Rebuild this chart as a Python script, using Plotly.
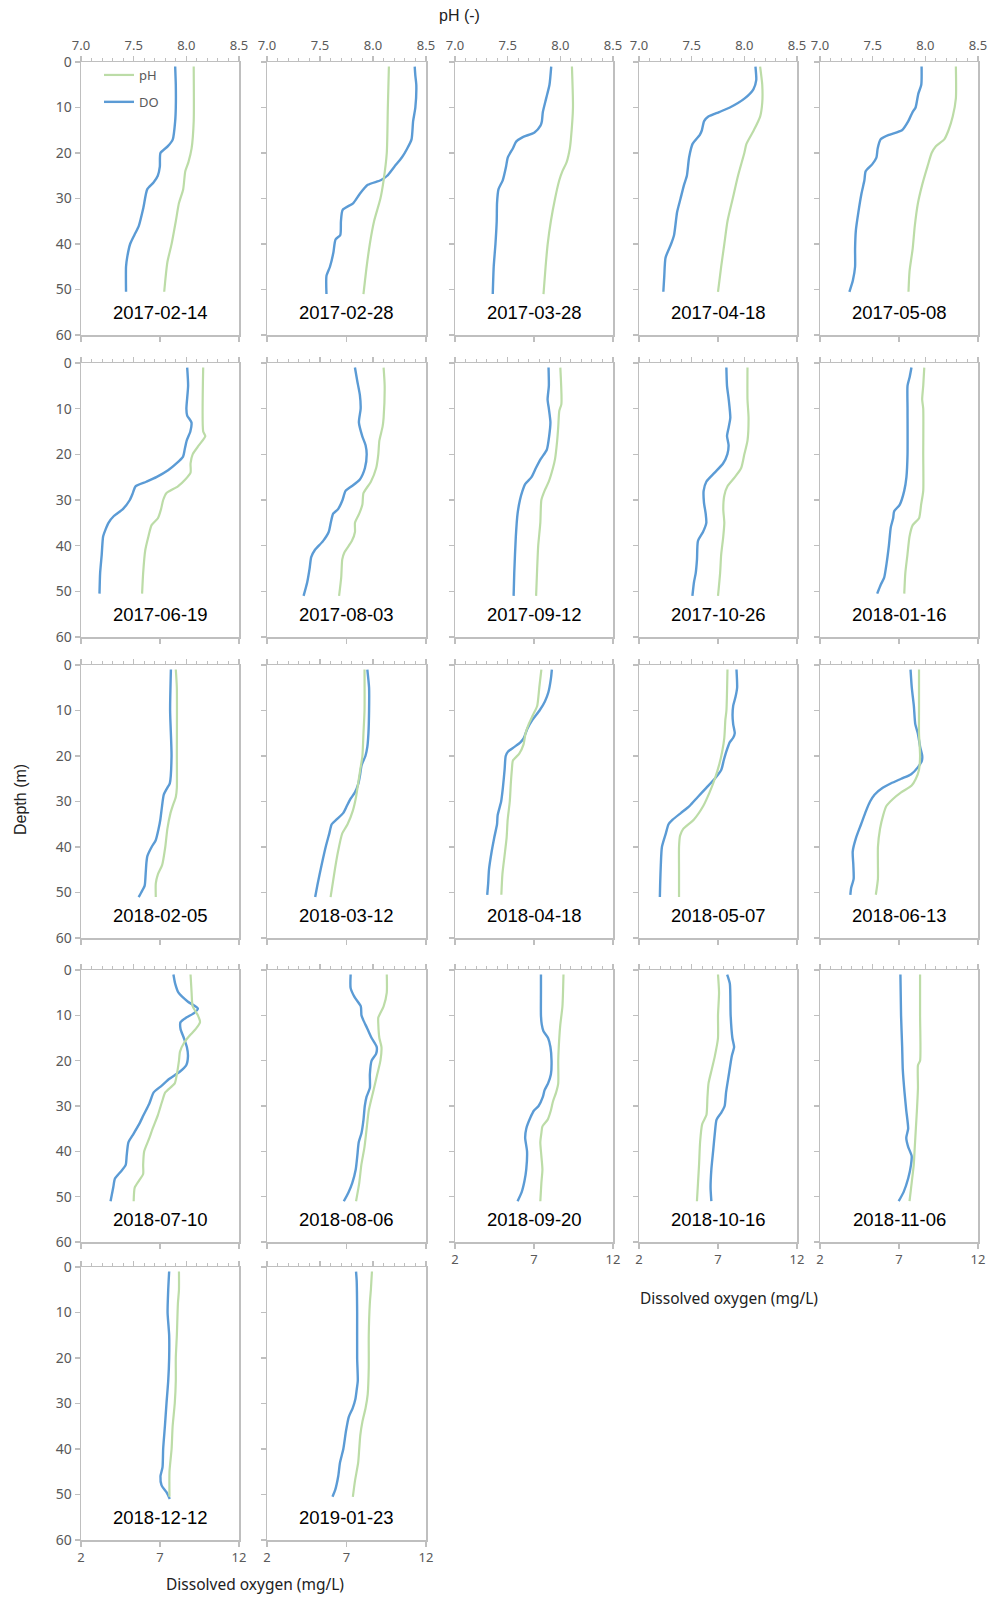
import plotly.graph_objects as go

DATES = ["2017-02-14", "2017-02-28", "2017-03-28", "2017-04-18", "2017-05-08",
         "2017-06-19", "2017-08-03", "2017-09-12", "2017-10-26", "2018-01-16",
         "2018-02-05", "2018-03-12", "2018-04-18", "2018-05-07", "2018-06-13",
         "2018-07-10", "2018-08-06", "2018-09-20", "2018-10-16", "2018-11-06",
         "2018-12-12", "2019-01-23"]

DEPTH_TICKS = [0, 10, 20, 30, 40, 50, 60]
DO_TICKS = [2, 7, 12]
PH_TICKS = [7.0, 7.5, 8.0, 8.5]

# ---- 2017-02-14
DO_DEP_01 = [1, 5, 10, 13, 17, 18.5, 20, 23, 25, 26.5, 28, 32, 36, 38, 40, 43, 45, 50.5]
DO_01 = [7.96, 8.0, 8.0, 7.96, 7.81, 7.5, 7.03, 6.99, 6.86, 6.59, 6.19, 5.95, 5.66, 5.38, 5.11, 4.92, 4.85, 4.85]
PH_DEP_01 = [1, 13, 19, 22, 24, 28, 31, 35, 40, 44, 48, 50.5]
PH_01 = [8.07, 8.07, 8.05, 8.02, 7.99, 7.97, 7.93, 7.90, 7.86, 7.82, 7.80, 7.79]
# ---- 2017-02-28
DO_DEP_02 = [1, 3, 5, 10, 13, 17, 19, 21, 23, 25, 26, 27, 29, 31, 32.5, 35, 38, 39, 42, 45, 47, 51]
DO_02 = [11.29, 11.33, 11.39, 11.33, 11.19, 11.09, 10.82, 10.48, 10.01, 9.56, 9.15, 8.34, 7.83, 7.43, 6.76, 6.65, 6.61, 6.31, 6.17, 5.96, 5.74, 5.74]
PH_DEP_02 = [1, 10, 20, 26, 30, 35, 40, 45, 51]
PH_02 = [8.15, 8.14, 8.13, 8.10, 8.07, 8.01, 7.97, 7.94, 7.91]
# ---- 2017-03-28
DO_DEP_03 = [1, 5, 8, 11, 13, 14, 15.5, 16.5, 17.5, 19, 21, 23, 26, 28, 31, 35, 40, 45, 51]
DO_03 = [8.09, 7.98, 7.77, 7.56, 7.50, 7.41, 7.03, 6.29, 5.87, 5.66, 5.34, 5.23, 5.02, 4.75, 4.66, 4.64, 4.56, 4.45, 4.39]
PH_DEP_03 = [1, 10, 17, 19, 22, 24, 26, 30, 35, 40, 45, 51]
PH_03 = [8.11, 8.12, 8.10, 8.09, 8.06, 8.02, 7.99, 7.95, 7.91, 7.88, 7.86, 7.84]
# ---- 2017-04-18
DO_DEP_04 = [1, 4, 6, 8, 10, 11, 12, 13, 15, 16, 18, 21, 25, 27, 30, 33, 38, 40, 43, 47, 50.5]
DO_04 = [9.37, 9.42, 9.24, 8.69, 7.75, 7.07, 6.39, 6.12, 5.98, 5.85, 5.39, 5.17, 5.03, 4.85, 4.63, 4.41, 4.22, 4.03, 3.68, 3.60, 3.54]
PH_DEP_04 = [1, 5, 9, 12, 15, 18, 20, 25, 30, 35, 40, 45, 50.5]
PH_04 = [8.15, 8.17, 8.17, 8.15, 8.09, 8.02, 8.00, 7.94, 7.89, 7.84, 7.81, 7.78, 7.75]
# ---- 2017-05-08
DO_DEP_05 = [1, 5, 7, 10, 11, 13, 15, 16, 17, 19, 21, 22.5, 24, 26, 29, 33, 37, 41, 45, 48, 50.5]
DO_05 = [8.43, 8.41, 8.22, 8.05, 7.86, 7.59, 7.19, 6.38, 5.84, 5.65, 5.57, 5.30, 4.89, 4.81, 4.62, 4.43, 4.27, 4.22, 4.22, 4.08, 3.86]
PH_DEP_05 = [1, 8, 12, 15, 17, 18.5, 20, 23, 27, 31, 36, 41, 46, 50.5]
PH_05 = [8.29, 8.29, 8.26, 8.22, 8.18, 8.10, 8.06, 8.02, 7.97, 7.93, 7.90, 7.88, 7.85, 7.84]
# ---- 2017-06-19
DO_DEP_06 = [1, 5, 10, 11.5, 13, 15, 17, 19, 20.5, 22, 23.5, 25, 26, 27, 28.5, 30, 32, 33.5, 35, 36.5, 38, 42, 46, 50.5]
DO_06 = [8.72, 8.78, 8.67, 8.72, 8.99, 8.92, 8.69, 8.56, 8.46, 8.04, 7.51, 6.77, 6.13, 5.45, 5.28, 5.09, 4.65, 4.08, 3.74, 3.55, 3.40, 3.31, 3.21, 3.17]
PH_DEP_06 = [1, 15, 16, 18, 20, 22, 24, 25.5, 27, 28.5, 30, 32, 34, 35.5, 38, 41, 46, 50.5]
PH_06 = [8.16, 8.16, 8.18, 8.12, 8.06, 8.04, 8.04, 7.99, 7.92, 7.81, 7.78, 7.76, 7.73, 7.67, 7.64, 7.61, 7.59, 7.58]
# ---- 2017-08-03
DO_DEP_07 = [1, 4, 7, 10, 13, 16, 18, 20, 23, 25.5, 27, 28, 30, 32, 33, 35, 37, 39, 41, 42.5, 45, 48, 51]
DO_07 = [7.53, 7.68, 7.84, 7.89, 7.78, 7.99, 8.20, 8.27, 8.16, 7.84, 7.32, 6.94, 6.75, 6.47, 6.16, 6.01, 5.88, 5.52, 5.00, 4.78, 4.68, 4.53, 4.30]
PH_DEP_07 = [1, 5, 12, 14, 17, 20, 23, 26, 28.5, 31, 33, 35, 37, 39, 41.5, 43, 47, 51]
PH_07 = [8.10, 8.11, 8.10, 8.09, 8.06, 8.05, 8.03, 7.98, 7.91, 7.90, 7.87, 7.83, 7.83, 7.80, 7.73, 7.71, 7.70, 7.68]
# ---- 2017-09-12
DO_DEP_08 = [1, 5, 8, 10, 13, 16, 19, 21, 23, 25, 26.5, 28, 30, 33, 38, 46, 51]
DO_08 = [7.92, 7.94, 7.86, 7.94, 8.04, 7.96, 7.81, 7.43, 7.12, 6.84, 6.44, 6.27, 6.11, 5.96, 5.85, 5.75, 5.71]
PH_DEP_08 = [1, 9, 10.5, 14, 17, 21, 23, 26, 28, 30, 35, 40, 45, 51]
PH_08 = [8.00, 8.01, 7.99, 7.98, 7.97, 7.95, 7.93, 7.89, 7.85, 7.82, 7.81, 7.79, 7.78, 7.77]
# ---- 2017-10-26
DO_DEP_09 = [1, 5, 8, 12, 14, 16, 18, 20, 22, 24, 26, 28, 30.5, 33, 35, 37, 39, 43, 46, 48, 51]
DO_09 = [7.53, 7.57, 7.68, 7.78, 7.68, 7.57, 7.67, 7.59, 7.32, 6.79, 6.26, 6.09, 6.11, 6.22, 6.26, 6.05, 5.73, 5.67, 5.59, 5.48, 5.38]
PH_DEP_09 = [1, 8, 12, 17, 20, 23, 25, 27, 29, 32, 35, 38, 42, 46, 51]
PH_09 = [8.03, 8.03, 8.04, 8.03, 8.00, 7.97, 7.91, 7.84, 7.81, 7.80, 7.81, 7.80, 7.78, 7.77, 7.75]
# ---- 2018-01-16
DO_DEP_10 = [1, 3, 5, 10, 20, 25, 28, 31, 32.5, 34, 36, 40, 44, 47, 48.5, 50.5]
DO_10 = [7.79, 7.68, 7.54, 7.54, 7.54, 7.47, 7.33, 7.05, 6.69, 6.63, 6.48, 6.36, 6.21, 6.06, 5.85, 5.62]
PH_DEP_10 = [1, 5, 8, 10, 20, 28, 31, 34, 35.5, 38, 42, 46, 50.5]
PH_10 = [7.99, 7.98, 7.97, 7.98, 7.98, 7.98, 7.96, 7.94, 7.88, 7.85, 7.83, 7.81, 7.80]
# ---- 2018-02-05
DO_DEP_11 = [1, 10, 20, 26, 27, 28.5, 31, 34, 36, 38.5, 40, 42, 43.5, 46, 48.5, 50, 51]
DO_11 = [7.69, 7.64, 7.73, 7.62, 7.46, 7.24, 7.13, 7.02, 6.91, 6.73, 6.47, 6.20, 6.14, 6.09, 6.03, 5.81, 5.65]
PH_DEP_11 = [1, 5, 20, 27, 29, 31, 32.5, 36, 40, 44, 46, 48, 51]
PH_11 = [7.90, 7.91, 7.91, 7.91, 7.90, 7.87, 7.85, 7.82, 7.80, 7.77, 7.73, 7.71, 7.71]
# ---- 2018-03-12
DO_DEP_12 = [1, 5, 10, 15, 18, 20, 22, 24, 26, 28, 29.5, 31, 32.5, 34, 35, 37, 40, 44, 48, 51]
DO_12 = [8.31, 8.42, 8.42, 8.38, 8.31, 8.19, 7.95, 7.86, 7.75, 7.53, 7.24, 7.02, 6.80, 6.36, 6.07, 5.92, 5.69, 5.43, 5.19, 5.03]
PH_DEP_12 = [1, 10, 15, 20, 23, 26, 29, 32, 35, 37, 41, 45, 51]
PH_12 = [7.92, 7.92, 7.91, 7.90, 7.88, 7.86, 7.84, 7.81, 7.76, 7.71, 7.67, 7.64, 7.60]
# ---- 2018-04-18
DO_DEP_13 = [1, 3, 6, 8, 10, 12, 14, 16, 17, 18, 19, 20, 23, 27, 30, 33, 35, 38, 41, 45, 48, 50.5]
DO_13 = [8.13, 8.07, 7.91, 7.69, 7.35, 6.91, 6.58, 6.36, 6.14, 5.76, 5.36, 5.21, 5.14, 5.03, 4.92, 4.70, 4.66, 4.48, 4.32, 4.15, 4.10, 4.04]
PH_DEP_13 = [1, 5, 9, 11, 13, 15, 17.5, 19.5, 21, 23, 26, 30, 34, 38, 42, 46, 50.5]
PH_13 = [7.82, 7.80, 7.78, 7.74, 7.70, 7.67, 7.65, 7.61, 7.55, 7.54, 7.53, 7.52, 7.50, 7.49, 7.47, 7.45, 7.44]
# ---- 2018-05-07
DO_DEP_14 = [1, 5, 7, 9, 11, 13, 15, 16, 17, 19, 21, 23, 25, 27, 29, 31, 32.5, 34, 35, 37, 40, 44, 48, 51]
DO_14 = [8.17, 8.21, 8.11, 7.96, 7.92, 7.96, 8.06, 7.96, 7.74, 7.53, 7.36, 7.21, 6.79, 6.26, 5.72, 5.19, 4.66, 4.13, 3.87, 3.70, 3.45, 3.38, 3.34, 3.32]
PH_DEP_14 = [1, 10, 12, 16, 19, 22, 25, 28, 31, 34, 36, 37.5, 40, 45, 51]
PH_14 = [7.84, 7.83, 7.82, 7.81, 7.79, 7.76, 7.72, 7.67, 7.61, 7.52, 7.42, 7.39, 7.38, 7.38, 7.38]
# ---- 2018-06-13
DO_DEP_15 = [1, 5, 9, 13, 15, 18, 20, 21, 22.5, 24, 25, 26, 27, 28.5, 30, 32, 35, 38, 41, 44, 47, 49, 50.5]
DO_15 = [7.73, 7.81, 7.94, 8.03, 8.19, 8.34, 8.47, 8.45, 8.19, 7.77, 7.14, 6.50, 5.97, 5.45, 5.17, 4.92, 4.60, 4.28, 4.07, 4.11, 4.13, 3.97, 3.92]
PH_DEP_15 = [1, 10, 15, 20, 23, 25, 26.5, 28, 29.5, 31, 33, 36, 40, 44, 47, 50.5]
PH_15 = [7.94, 7.94, 7.94, 7.95, 7.94, 7.91, 7.87, 7.77, 7.69, 7.63, 7.60, 7.57, 7.55, 7.55, 7.55, 7.53]
# ---- 2018-07-10
DO_DEP_16 = [1, 3, 5, 7, 8.5, 9.5, 10.5, 11.5, 13, 15, 17, 19, 21, 22.5, 24, 25.5, 27, 29.5, 32, 34, 36.5, 38, 41, 43, 44.5, 46, 48, 51]
DO_16 = [7.85, 7.96, 8.17, 8.77, 9.40, 9.15, 8.66, 8.30, 8.30, 8.51, 8.70, 8.77, 8.66, 8.23, 7.60, 7.11, 6.60, 6.32, 5.96, 5.68, 5.26, 5.00, 4.89, 4.83, 4.51, 4.15, 4.04, 3.87]
PH_DEP_16 = [1, 5, 8, 10, 11.5, 13, 14.5, 16, 18, 20, 23, 25, 27, 29, 32, 35, 37, 40, 43, 45, 46.5, 48, 51]
PH_16 = [8.04, 8.05, 8.06, 8.11, 8.13, 8.09, 8.03, 7.98, 7.94, 7.93, 7.91, 7.89, 7.80, 7.77, 7.73, 7.68, 7.65, 7.60, 7.59, 7.59, 7.55, 7.51, 7.50]
# ---- 2018-08-06
DO_DEP_17 = [1, 4, 6, 8, 10, 11, 13, 15, 17, 18.5, 20, 23, 26, 28, 30, 33, 36, 38, 41, 44, 47, 49, 51]
DO_17 = [7.26, 7.26, 7.51, 7.90, 7.94, 8.05, 8.32, 8.58, 8.90, 8.86, 8.58, 8.47, 8.47, 8.26, 8.15, 8.07, 7.94, 7.77, 7.68, 7.58, 7.36, 7.13, 6.83]
PH_DEP_17 = [1, 5, 8, 10.5, 12, 15, 17, 20, 23, 27, 31, 35, 39, 43, 47, 51]
PH_17 = [8.13, 8.13, 8.10, 8.05, 8.05, 8.06, 8.08, 8.07, 8.04, 8.00, 7.96, 7.94, 7.92, 7.89, 7.87, 7.84]
# ---- 2018-09-20
DO_DEP_18 = [1, 5, 10, 12, 13.5, 15, 17, 20, 23, 25, 26.5, 28, 30, 31, 32.5, 35, 37, 40, 44, 46.5, 49, 51]
DO_18 = [7.44, 7.44, 7.44, 7.49, 7.60, 7.89, 8.04, 8.11, 8.07, 7.89, 7.67, 7.56, 7.29, 7.00, 6.78, 6.51, 6.44, 6.56, 6.51, 6.40, 6.22, 5.96]
PH_DEP_18 = [1, 8, 12, 15, 20, 25, 27, 29, 31, 33, 34.5, 36, 38, 41, 44, 47, 51]
PH_18 = [8.03, 8.02, 8.00, 7.99, 7.98, 7.98, 7.96, 7.93, 7.91, 7.88, 7.83, 7.82, 7.81, 7.82, 7.83, 7.82, 7.81]
# ---- 2018-10-16
DO_DEP_19 = [1, 3, 10, 15, 17, 19, 23, 27, 30, 31.5, 33, 36, 40, 44, 48, 51]
DO_19 = [7.58, 7.75, 7.80, 7.91, 8.02, 7.87, 7.69, 7.51, 7.42, 7.20, 6.91, 6.80, 6.69, 6.58, 6.53, 6.58]
PH_DEP_19 = [1, 5, 10, 15, 19, 22, 25, 28, 32, 34, 38, 43, 47, 51]
PH_19 = [7.75, 7.76, 7.75, 7.75, 7.72, 7.69, 7.66, 7.65, 7.64, 7.60, 7.58, 7.57, 7.56, 7.55]
# ---- 2018-11-06
DO_DEP_20 = [1, 10, 17, 22, 27, 31, 35, 37, 39, 41, 43, 46, 49, 51]
DO_20 = [7.09, 7.13, 7.20, 7.24, 7.35, 7.46, 7.58, 7.46, 7.58, 7.80, 7.76, 7.58, 7.29, 6.98]
PH_DEP_20 = [1, 10, 20, 21, 26, 31, 35, 39, 43, 47, 51]
PH_20 = [7.95, 7.95, 7.95, 7.93, 7.93, 7.92, 7.91, 7.90, 7.89, 7.87, 7.85]
# ---- 2018-12-12
DO_DEP_21 = [1, 5, 10, 15, 20, 25, 30, 35, 40, 44, 46, 48, 49.5, 51]
DO_21 = [7.58, 7.52, 7.48, 7.58, 7.58, 7.52, 7.41, 7.31, 7.20, 7.16, 7.03, 7.10, 7.41, 7.62]
PH_DEP_21 = [1, 5, 8, 15, 20, 25, 30, 35, 40, 45, 50.5]
PH_21 = [7.93, 7.93, 7.92, 7.91, 7.90, 7.90, 7.89, 7.87, 7.86, 7.84, 7.84]
# ---- 2019-01-23
DO_DEP_22 = [1, 3, 10, 20, 25, 27, 29, 31, 33, 36, 40, 43, 46, 49, 50.5]
DO_22 = [7.60, 7.64, 7.67, 7.67, 7.71, 7.64, 7.56, 7.39, 7.14, 6.97, 6.80, 6.59, 6.48, 6.29, 6.12]
PH_DEP_22 = [1, 5, 8, 15, 22, 28, 31, 34, 37, 40, 43, 47, 50.5]
PH_22 = [7.99, 7.98, 7.97, 7.96, 7.96, 7.95, 7.93, 7.90, 7.88, 7.87, 7.86, 7.83, 7.81]

SERIES = [
    (DO_DEP_01, DO_01, PH_DEP_01, PH_01), (DO_DEP_02, DO_02, PH_DEP_02, PH_02),
    (DO_DEP_03, DO_03, PH_DEP_03, PH_03), (DO_DEP_04, DO_04, PH_DEP_04, PH_04),
    (DO_DEP_05, DO_05, PH_DEP_05, PH_05), (DO_DEP_06, DO_06, PH_DEP_06, PH_06),
    (DO_DEP_07, DO_07, PH_DEP_07, PH_07), (DO_DEP_08, DO_08, PH_DEP_08, PH_08),
    (DO_DEP_09, DO_09, PH_DEP_09, PH_09), (DO_DEP_10, DO_10, PH_DEP_10, PH_10),
    (DO_DEP_11, DO_11, PH_DEP_11, PH_11), (DO_DEP_12, DO_12, PH_DEP_12, PH_12),
    (DO_DEP_13, DO_13, PH_DEP_13, PH_13), (DO_DEP_14, DO_14, PH_DEP_14, PH_14),
    (DO_DEP_15, DO_15, PH_DEP_15, PH_15), (DO_DEP_16, DO_16, PH_DEP_16, PH_16),
    (DO_DEP_17, DO_17, PH_DEP_17, PH_17), (DO_DEP_18, DO_18, PH_DEP_18, PH_18),
    (DO_DEP_19, DO_19, PH_DEP_19, PH_19), (DO_DEP_20, DO_20, PH_DEP_20, PH_20),
    (DO_DEP_21, DO_21, PH_DEP_21, PH_21), (DO_DEP_22, DO_22, PH_DEP_22, PH_22),
]

# ---------------- layout geometry (page pixels) ----------------
OFF = 0                      # body margin removed by the post script below
W, H = 989, 1598
COL_X = [(81, 239), (267, 426), (455, 613), (639, 797), (820, 978)]
ROW_Y = [(62, 335), (363, 637), (665, 938), (970, 1242), (1267, 1540)]


def px(x):
    return (x - OFF) / W


def py(y):
    return 1 - (y - OFF) / H


BLUE = "#5B9BD5"
GREEN = "#BCDCA7"
AXIS = "#BFBFBF"
TICKFONT = dict(family="Noto Sans", size=13, color="#595959")

fig = go.Figure()
layout = dict(
    template="none",
    width=W, height=H, autosize=False, margin=dict(l=0, r=0, t=0, b=0, pad=0, autoexpand=False),
    paper_bgcolor="white", plot_bgcolor="white", showlegend=True,
    legend=dict(x=px(99), y=py(60), xanchor="left", yanchor="top",
                bgcolor="rgba(0,0,0,0)", borderwidth=0,
                font=dict(family="Noto Sans", size=13, color="#595959"),
                tracegroupgap=7, itemwidth=30),
)

for i, (dd, dv, pd_, pv) in enumerate(SERIES):
    r, c = divmod(i, 5)
    x0, x1 = COL_X[c]
    y0, y1 = ROW_Y[r]
    xa_do, xa_ph, ya = 2 * i + 1, 2 * i + 2, i + 1
    sfx = lambda n: "" if n == 1 else str(n)

    fig.add_trace(go.Scatter(
        x=pv, y=pd_, mode="lines", name="pH", legendgroup="ph", legendrank=1,
        showlegend=(i == 0), line=dict(color=GREEN, width=2.2, shape="spline", smoothing=0.6),
        xaxis="x" + sfx(xa_ph), yaxis="y" + sfx(ya), hoverinfo="skip"))
    fig.add_trace(go.Scatter(
        x=dv, y=dd, mode="lines", name="DO", legendgroup="do", legendrank=2,
        showlegend=(i == 0), line=dict(color=BLUE, width=2.4, shape="spline", smoothing=0.6),
        xaxis="x" + sfx(xa_do), yaxis="y" + sfx(ya), hoverinfo="skip"))

    show_do_labels = (r == 4) or (r == 3 and c >= 2)
    layout["xaxis" + sfx(xa_do)] = dict(
        domain=[px(x0), px(x1)], anchor="y" + sfx(ya), range=[2, 12], automargin=False,
        tickvals=DO_TICKS, ticks="outside", ticklen=5, tickcolor=AXIS, tickwidth=1.3,
        showline=True, linecolor=AXIS, linewidth=1.5, showgrid=False, zeroline=False,
        showticklabels=show_do_labels, tickfont=TICKFONT, fixedrange=True)
    layout["xaxis" + sfx(xa_ph)] = dict(
        overlaying="x" + sfx(xa_do), anchor="y" + sfx(ya), side="top", range=[7.0, 8.5], automargin=False,
        tickvals=PH_TICKS, tickformat=".1f", ticks="outside", ticklen=5, tickcolor=AXIS, tickwidth=1.3,
        minor=dict(dtick=0.1, tick0=7.0, ticks="outside", ticklen=3, tickcolor=AXIS, tickwidth=1),
        showline=True, linecolor=AXIS, linewidth=1.5, showgrid=False, zeroline=False,
        showticklabels=(r == 0), tickfont=TICKFONT, fixedrange=True)
    layout["yaxis" + sfx(ya)] = dict(
        domain=[py(y1), py(y0)], anchor="x" + sfx(xa_do), range=[60, 0], automargin=False,
        tickvals=DEPTH_TICKS, ticks="outside", ticklen=5, tickcolor=AXIS, tickwidth=1.3,
        showline=True, linecolor=AXIS, linewidth=1.5, mirror=True, showgrid=False, zeroline=False,
        showticklabels=(c == 0), tickfont=dict(family="Noto Sans", size=14, color="#595959"),
        fixedrange=True)

fig.update_layout(**layout)

# date labels inside each panel
for i, d in enumerate(DATES):
    r, c = divmod(i, 5)
    x0, x1 = COL_X[c]
    fig.add_annotation(text=d, x=px((x0 + x1) / 2), xref="paper", y=55,
                       yref="y" + ("" if i == 0 else str(i + 1)),
                       showarrow=False, font=dict(family="Liberation Sans", size=18.5, color="black"),
                       xanchor="center", yanchor="middle")

# axis titles
fig.add_annotation(text="pH (-)", x=px(459), y=py(15), xref="paper", yref="paper", showarrow=False,
                   font=dict(family="Liberation Sans", size=16, color="#222222"), xanchor="center", yanchor="middle")
fig.add_annotation(text="Depth (m)", x=px(20), y=py(800), xref="paper", yref="paper", showarrow=False,
                   textangle=-90, font=dict(family="Liberation Sans", size=16, color="#222222"),
                   xanchor="center", yanchor="middle")
fig.add_annotation(text="Dissolved oxygen (mg/L)", x=px(255), y=py(1584), xref="paper", yref="paper",
                   showarrow=False, font=dict(family="Noto Sans", size=15.5, color="#222222"),
                   xanchor="center", yanchor="middle")
fig.add_annotation(text="Dissolved oxygen (mg/L)", x=px(729), y=py(1298), xref="paper", yref="paper",
                   showarrow=False, font=dict(family="Noto Sans", size=15.5, color="#222222"),
                   xanchor="center", yanchor="middle")

fig.write_html("out.html", config={"displayModeBar": False, "staticPlot": True, "responsive": False},
               post_script="document.documentElement.style.margin='0';document.body.style.margin='0';"
                           "document.body.style.padding='0';document.body.style.overflow='hidden';")
